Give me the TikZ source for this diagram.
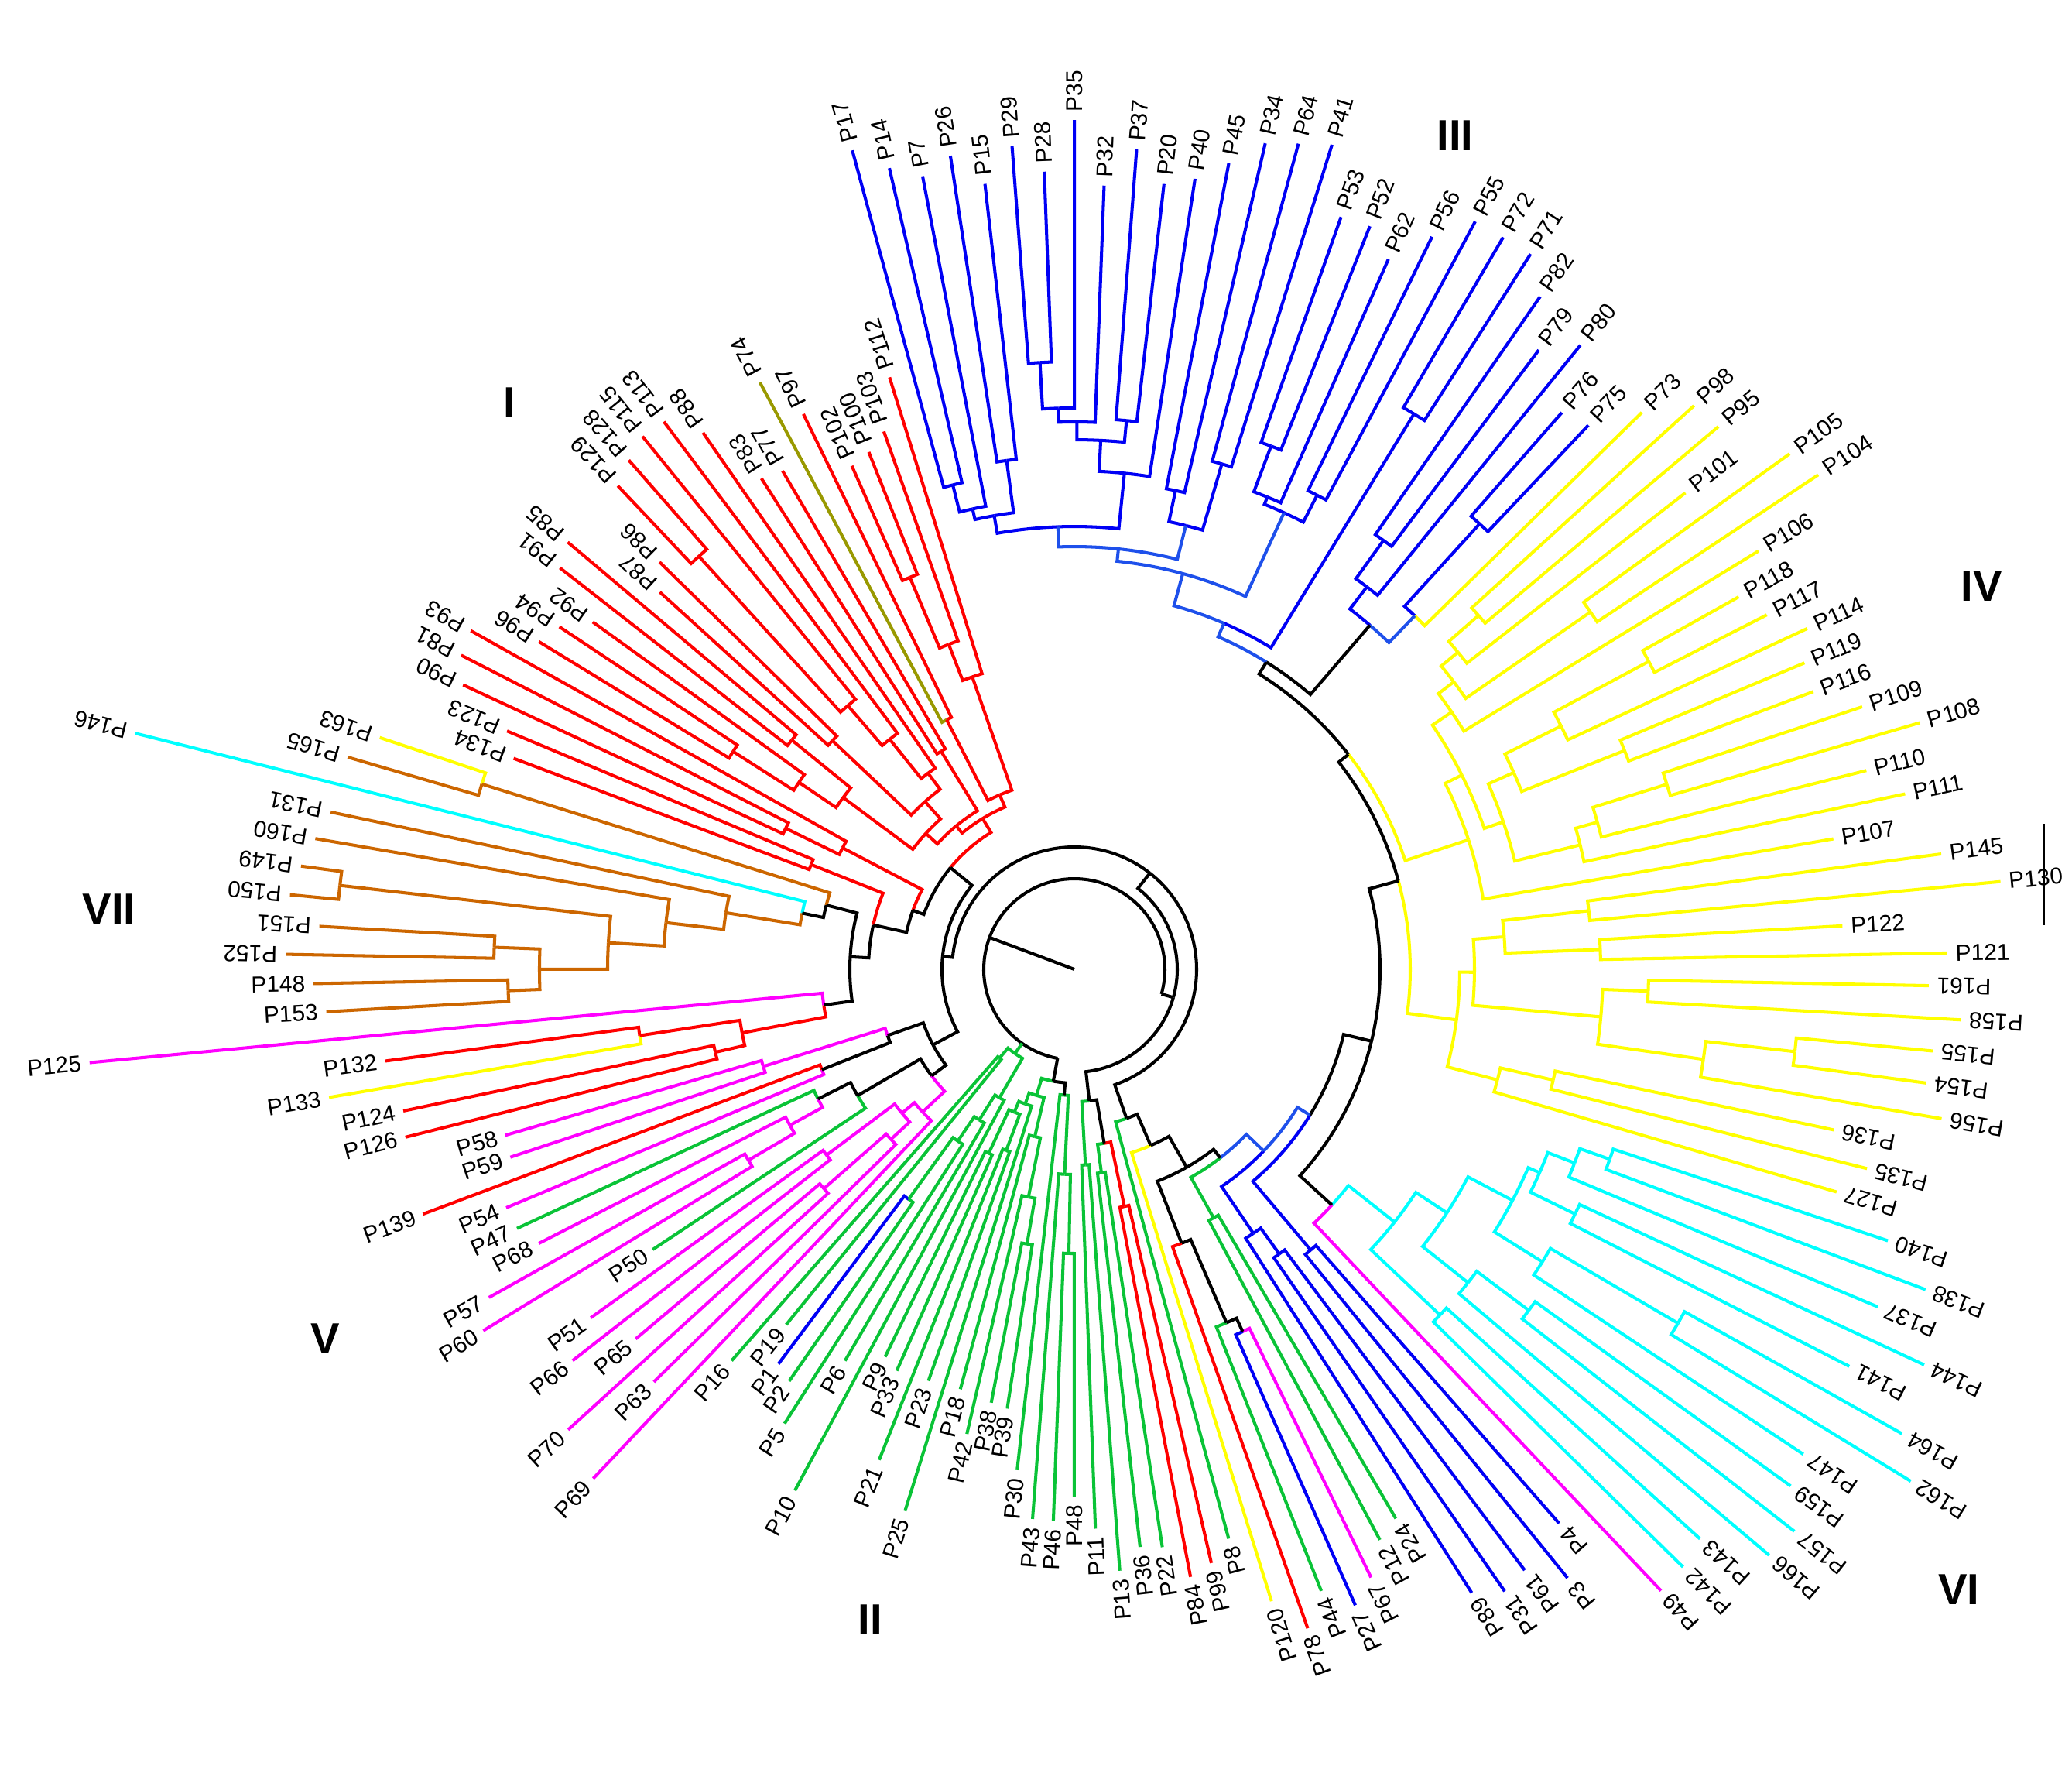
\documentclass[tikz,border=0pt]{standalone}
\usepackage{fontspec}
\setmainfont{Liberation Sans}
\usepackage{tikz}
\definecolor{cladeblue}{HTML}{0000F5}
\definecolor{stemblue}{HTML}{1E50EB}
\definecolor{cladered}{HTML}{FF0000}
\definecolor{cladeyellow}{HTML}{FFFF00}
\definecolor{cladecyan}{HTML}{00FFFF}
\definecolor{clademagenta}{HTML}{FF00FF}
\definecolor{cladegreen}{HTML}{0AC337}
\definecolor{cladebrown}{HTML}{CC6600}
\definecolor{cladeolive}{HTML}{999900}
\tikzset{
  br/.style={line width=1.15pt},
  lab/.style={font=\fontsize{8.5}{10}\selectfont, inner sep=1.5pt},
  grp/.style={font=\fontsize{16}{18}\selectfont\bfseries}
}
% leaf: index, tip radius (px), colour, name
\newcommand\leafP[4]{%
  \pgfmathsetmacro\myp{#1<90 ? #1+166 : #1}%
  \pgfmathsetmacro\mya{105.17-\myp*2.168675}%
  \expandafter\xdef\csname ka@#4\endcsname{\mya}%
  \expandafter\xdef\csname kr@#4\endcsname{#2}%
  \expandafter\xdef\csname kc@#4\endcsname{#3}%
  \pgfmathsetmacro\myn{mod(\mya+720,360)}%
  \pgfmathsetmacro\myr{#2/100+0.05}%
  \ifdim\myn pt<180pt
    \node[lab, anchor=west, rotate=\mya] (#4) at (\mya:\myr) {#4};
  \else
    \node[lab, anchor=east, rotate=\mya+180] (#4) at (\mya:\myr) {#4};
  \fi
}
% clade: id, radius (px), colour, children
\newcommand\cladeN[4]{%
  \foreach \kch [count=\kn] in {#4}{%
    \ifnum\kn=1 \xdef\kfirst{\csname ka@\kch\endcsname}\fi
    \xdef\klast{\csname ka@\kch\endcsname}%
  }%
  \pgfmathsetmacro\kmid{(\kfirst+\klast)/2}%
  \pgfmathsetmacro\krr{#2/100}%
  \foreach \kch in {#4}{%
    \edef\kang{\csname ka@\kch\endcsname}%
    \edef\kval{\csname kr@\kch\endcsname}%
    \edef\kcol{\csname kc@\kch\endcsname}%
    \pgfmathsetmacro\krad{\kval/100}%
    \draw[br, draw=\kcol] (\kmid:\krr) arc[start angle=\kmid, end angle=\kang, radius=\krr] -- (\kang:\krad);
  }%
  \expandafter\xdef\csname ka@#1\endcsname{\kmid}%
  \expandafter\xdef\csname kr@#1\endcsname{#2}%
  \expandafter\xdef\csname kc@#1\endcsname{#3}%
}
\begin{document}
\begin{tikzpicture}
  \useasboundingbox (-13.88,-10.50) rectangle (12.89,12.52);
  \fill[white] (-13.88,-10.50) rectangle (12.89,12.52);

  % leaves
  \foreach \i/\r/\col/\nm in {
    0/1096/cladeblue/P17, 1/1062/cladeblue/P14, 2/1043/cladeblue/P7, 3/1063/cladeblue/P26,
    4/1021/cladeblue/P15, 5/1066/cladeblue/P29, 6/1031/cladeblue/P28, 7/1097/cladeblue/P35,
    8/1013/cladeblue/P32, 9/1062/cladeblue/P37, 10/1021/cladeblue/P20, 11/1033/cladeblue/P40,
    12/1060/cladeblue/P45, 13/1095/cladeblue/P34, 14/1105/cladeblue/P64, 15/1116/cladeblue/P41,
    16/1031/cladeblue/P53, 17/1033/cladeblue/P52, 18/1003/cladeblue/P62, 19/1053/cladeblue/P56,
    20/1096/cladeblue/P55, 21/1096/cladeblue/P72, 22/1096/cladeblue/P71, 23/1057/cladeblue/P82,
    24/1000/cladeblue/P79, 25/1038/cladeblue/P80, 26/956/cladeblue/P76, 27/967/cladeblue/P75,
    28/1027/cladeyellow/P73, 29/1082/cladeyellow/P98, 30/1088/cladeyellow/P95, 31/1001/cladeyellow/P101,
    32/1139/cladeyellow/P105, 33/1154/cladeyellow/P104, 34/1036/cladeyellow/P106, 35/984/cladeyellow/P118,
    36/1005/cladeyellow/P117, 37/1044/cladeyellow/P114, 38/1023/cladeyellow/P119, 39/1020/cladeyellow/P116,
    40/1073/cladeyellow/P109, 41/1138/cladeyellow/P108, 42/1055/cladeyellow/P110, 43/1097/cladeyellow/P111,
    44/995/cladeyellow/P107, 45/1130/cladeyellow/P145, 46/1202/cladeyellow/P130, 47/994/cladeyellow/P122,
    48/1128/cladeyellow/P121, 49/1104/cladeyellow/P161, 50/1147/cladeyellow/P158, 51/1114/cladeyellow/P155,
    52/1110/cladeyellow/P154, 53/1137/cladeyellow/P156, 54/1003/cladeyellow/P136, 55/1056/cladeyellow/P135,
    56/1026/cladeyellow/P127, 57/1108/cladecyan/P140, 58/1175/cladecyan/P138, 59/1126/cladecyan/P137,
    60/1211/cladecyan/P144, 61/1125/cladecyan/P141, 62/1226/cladecyan/P164, 63/1267/cladecyan/P162,
    64/1131/cladecyan/P147, 65/1141/cladecyan/P159, 66/1180/cladecyan/P157, 67/1174/cladecyan/P166,
    68/1093/cladecyan/P143, 69/1102/cladecyan/P142, 70/1104/clademagenta/P49, 71/951/cladeblue/P4,
    72/1012/cladeblue/P3, 73/970/cladeblue/P61, 74/977/cladeblue/P31, 75/955/cladeblue/P89,
    76/822/cladegreen/P24, 77/836/cladegreen/P12, 78/874/clademagenta/P67, 79/898/cladeblue/P27,
    80/864/cladegreen/P44, 81/903/cladered/P78, 82/855/cladeyellow/P120, 83/762/cladegreen/P8,
    84/787/cladered/P99, 85/799/cladered/P84, 86/755/cladegreen/P22, 87/751/cladegreen/P36,
    88/779/cladegreen/P13, 89/723/cladegreen/P11, 90/681/cladegreen/P48, 91/713/cladegreen/P46,
    92/712/cladegreen/P43, 93/651/cladegreen/P30, 94/574/cladegreen/P39, 95/570/cladegreen/P38,
    96/616/cladegreen/P42, 97/562/cladegreen/P18, 98/733/cladegreen/P25, 99/564/cladegreen/P23,
    100/682/cladegreen/P21, 101/567/cladegreen/P33, 102/557/cladegreen/P9, 103/764/cladegreen/P10,
    104/586/cladegreen/P6, 105/696/cladegreen/P5, 106/647/cladegreen/P2, 107/637/cladeblue/P1,
    108/591/cladegreen/P19, 109/672/cladegreen/P16, 110/905/clademagenta/P69, 111/761/clademagenta/P63,
    112/884/clademagenta/P70, 113/741/clademagenta/P65, 114/822/clademagenta/P66, 115/770/clademagenta/P51,
    116/654/cladegreen/P50, 117/895/clademagenta/P60, 118/867/clademagenta/P57, 119/777/clademagenta/P68,
    120/794/cladegreen/P47, 121/796/clademagenta/P54, 122/899/cladered/P139, 123/768/clademagenta/P59,
    124/766/clademagenta/P58, 125/891/cladered/P126, 126/886/cladered/P124, 127/977/cladeyellow/P133,
    128/898/cladered/P132, 129/1278/clademagenta/P125, 130/968/cladebrown/P153, 131/983/cladebrown/P148,
    132/1019/cladebrown/P152, 133/977/cladebrown/P151, 134/1018/cladebrown/P150, 135/1008/cladebrown/P149,
    136/995/cladebrown/P160, 137/982/cladebrown/P131, 138/1251/cladecyan/P146, 139/978/cladebrown/P165,
    140/946/cladeyellow/P163, 141/774/cladered/P134, 142/795/cladered/P123, 143/871/cladered/P90,
    144/890/cladered/P81, 145/894/cladered/P93, 146/811/cladered/P96, 147/799/cladered/P94,
    148/767/cladered/P92, 149/843/cladered/P91, 150/856/cladered/P85, 151/724/cladered/P87,
    152/751/cladered/P86, 153/859/cladered/P129, 154/874/cladered/P128, 155/886/cladered/P115,
    156/884/cladered/P113, 157/843/cladered/P88, 158/752/cladered/P83, 159/746/cladered/P77,
    160/860/cladeolive/P74, 161/798/cladered/P97, 162/711/cladered/P102, 163/719/cladered/P100,
    164/737/cladered/P103, 165/801/cladered/P112} {\leafP{\i}{\r}{\col}{\nm}}

  % group III
  \cladeN{t1}{645}{cladeblue}{P17,P14}
  \cladeN{t2}{609}{cladeblue}{t1,P7}
  \cladeN{t3}{663}{cladeblue}{P26,P15}
  \cladeN{t4}{595}{cladeblue}{t2,t3}
  \cladeN{t5}{785}{cladeblue}{P29,P28}
  \cladeN{t6}{725}{cladeblue}{t5,P35}
  \cladeN{t7}{707}{cladeblue}{t6,P32}
  \cladeN{t8}{712}{cladeblue}{P37,P20}
  \cladeN{t9}{684}{cladeblue}{t7,t8}
  \cladeN{t10}{644}{cladeblue}{t9,P40}
  \cladeN{t11}{572}{stemblue}{t4,t10}
  \cladeN{t12}{632}{cladeblue}{P45,P34}
  \cladeN{t13}{680}{cladeblue}{P64,P41}
  \cladeN{t14}{591}{stemblue}{t12,t13}
  \cladeN{t15}{546}{stemblue}{t11,t14}
  \cladeN{t16}{722}{cladeblue}{P53,P52}
  \cladeN{t17}{659}{cladeblue}{t16,P62}
  \cladeN{t18}{688}{cladeblue}{P56,P55}
  \cladeN{t19}{649}{stemblue}{t17,t18}
  \cladeN{t20}{530}{stemblue}{t15,t19}
  \cladeN{t21}{841}{cladeblue}{P72,P71}
  \cladeN{t22}{487}{stemblue}{t20,t21}
  \cladeN{t23}{683}{cladeblue}{P82,P79}
  \cladeN{t24}{622}{cladeblue}{t23,P80}
  \cladeN{u0}{778}{cladeblue}{P76,P75}
  \cladeN{uE}{634}{stemblue}{u0,P73}
  \cladeN{u1}{586}{black}{t24,uE}
  \cladeN{u2}{468}{black}{t22,u1}

  % group IV
  \cladeN{y1}{694}{cladeyellow}{P98,P95}
  \cladeN{y2}{643}{cladeyellow}{y1,P101}
  \cladeN{y3}{811}{cladeyellow}{P105,P104}
  \cladeN{y4}{615}{cladeyellow}{y2,y3}
  \cladeN{y5}{590}{cladeyellow}{y4,P106}
  \cladeN{y6}{842}{cladeyellow}{P118,P117}
  \cladeN{y7}{703}{cladeyellow}{y6,P114}
  \cladeN{y8}{765}{cladeyellow}{P119,P116}
  \cladeN{y9}{622}{cladeyellow}{y7,y8}
  \cladeN{y10}{802}{cladeyellow}{P109,P108}
  \cladeN{y11}{702}{cladeyellow}{y10,P110}
  \cladeN{y12}{673}{cladeyellow}{y11,P111}
  \cladeN{y13}{586}{cladeyellow}{y9,y12}
  \cladeN{y14}{560}{cladeyellow}{y5,y13}
  \cladeN{y15}{536}{cladeyellow}{y14,P107}
  \cladeN{z1}{669}{cladeyellow}{P145,P130}
  \cladeN{z2}{680}{cladeyellow}{P122,P121}
  \cladeN{z3}{557}{cladeyellow}{z1,z2}
  \cladeN{z4}{742}{cladeyellow}{P161,P158}
  \cladeN{z5}{937}{cladeyellow}{P155,P154}
  \cladeN{z6}{821}{cladeyellow}{z5,P156}
  \cladeN{z7}{683}{cladeyellow}{z4,z6}
  \cladeN{z8}{517}{cladeyellow}{z3,z7}
  \cladeN{z9}{635}{cladeyellow}{P136,P135}
  \cladeN{z10}{565}{cladeyellow}{z9,P127}
  \cladeN{z11}{498}{cladeyellow}{z8,z10}
  \cladeN{Y449}{450}{black}{u2,y15}
  \cladeN{Y434}{434}{black}{Y449,z11}

  % group VI
  \cladeN{c1}{734}{cladecyan}{P140,P138}
  \cladeN{c2}{693}{cladecyan}{c1,P137}
  \cladeN{c3}{720}{cladecyan}{P144,P141}
  \cladeN{c4}{656}{cladecyan}{c2,c3}
  \cladeN{c5}{904}{cladecyan}{P164,P162}
  \cladeN{c6}{713}{cladecyan}{c5,P147}
  \cladeN{c8}{640}{cladecyan}{c4,c6}
  \cladeN{c7}{734}{cladecyan}{P159,P157}
  \cladeN{c11}{650}{cladecyan}{c7,P166}
  \cladeN{cB}{575}{cladecyan}{c8,c11}
  \cladeN{c10}{650}{cladecyan}{P143,P142}
  \cladeN{cR}{527}{cladecyan}{cB,c10}
  \cladeN{VIa}{451}{black}{cR,P49}
  \cladeN{X395}{395}{black}{Y434,VIa}

  % lower right ladder
  \cladeN{b1}{474}{cladeblue}{P4,P3}
  \cladeN{b2}{453}{cladeblue}{P61,P31}
  \cladeN{b3}{412}{cladeblue}{b2,P89}
  \cladeN{X358}{358}{stemblue}{X395,b1}
  \cladeN{N339}{339}{stemblue}{X358,b3}
  \cladeN{n0}{368}{cladegreen}{P24,P12}
  \cladeN{N308}{308}{black}{N339,n0}
  \cladeN{m1}{516}{black}{P67,P27}
  \cladeN{n1}{497}{black}{m1,P44}
  \cladeN{n2}{380}{black}{n1,P78}
  \cladeN{N294}{294}{black}{N308,n2}
  \cladeN{N248}{248}{black}{N294,P120}
  \cladeN{N204}{204}{black}{N248,P8}

  % group II
  \cladeN{q1r}{313}{cladered}{P99,P84}
  \cladeN{qg}{265}{cladegreen}{P22,P36}
  \cladeN{Lb}{228}{black}{q1r,qg}
  \cladeN{q2}{253}{cladegreen}{P13,P11}
  \cladeN{q3}{171}{black}{Lb,q2}
  \cladeN{q4}{367}{cladegreen}{P48,P46}
  \cladeN{q5}{265}{cladegreen}{q4,P43}
  \cladeN{q6}{163}{black}{q5,P30}
  \cladeN{q7}{360}{cladegreen}{P39,P38}
  \cladeN{q8}{300}{cladegreen}{q7,P42}
  \cladeN{q9}{222}{cladegreen}{q8,P18}
  \cladeN{q10}{250}{cladegreen}{P23,P21}
  \cladeN{q11}{262}{cladegreen}{P33,P9}
  \cladeN{q12}{200}{cladegreen}{q10,q11}
  \cladeN{q13}{185}{cladegreen}{P25,q12}
  \cladeN{q14}{170}{cladegreen}{q9,q13}
  \cladeN{q15}{147}{black}{q6,q14}
  \cladeN{w1}{366}{cladegreen}{P2,P1}
  \cladeN{w2}{268}{cladegreen}{P5,w1}
  \cladeN{w3}{230}{cladegreen}{P6,w2}
  \cladeN{w4}{192}{cladegreen}{P10,w3}
  \cladeN{w5}{150}{cladegreen}{P19,P16}
  \cladeN{Gl}{133}{cladegreen}{w4,w5}

  % group V
  \cladeN{p1}{430}{clademagenta}{P70,P65}
  \cladeN{p2}{323}{clademagenta}{P63,p1}
  \cladeN{p3}{400}{clademagenta}{P66,P51}
  \cladeN{p4}{290}{clademagenta}{p2,p3}
  \cladeN{p5}{269}{clademagenta}{P69,p4}
  \cladeN{p6}{488}{clademagenta}{P60,P57}
  \cladeN{p7}{419}{clademagenta}{p6,P68}
  \cladeN{p8}{371}{black}{p7,P47}
  \cladeN{p9}{324}{black}{P50,p8}
  \cladeN{VVb}{230}{black}{p5,p9}
  \cladeN{p10}{351}{black}{P54,P139}
  \cladeN{p11}{421}{clademagenta}{P59,P58}
  \cladeN{p12}{256}{black}{p10,p11}
  \cladeN{VV}{207}{black}{VVb,p12}
  \cladeN{R1}{476}{cladered}{P126,P124}
  \cladeN{R2}{568}{cladered}{P133,P132}
  \cladeN{R3}{437}{cladered}{R1,R2}
  \cladeN{R4}{327}{black}{R3,P125}

  % group VII
  \cladeN{v1}{732}{cladebrown}{P153,P148}
  \cladeN{v2}{750}{cladebrown}{P152,P151}
  \cladeN{v3}{691}{cladebrown}{v1,v2}
  \cladeN{v4}{955}{cladebrown}{P150,P149}
  \cladeN{v5}{603}{cladebrown}{v3,v4}
  \cladeN{v6}{531}{cladebrown}{v5,P160}
  \cladeN{v7}{456}{cladebrown}{v6,P131}
  \cladeN{v8}{359}{black}{v7,P146}
  \cladeN{VIIb}{802}{cladebrown}{P165,P163}
  \cladeN{v9}{331}{black}{v8,VIIb}
  \cladeN{N290}{290}{black}{R4,v9}

  % group I
  \cladeN{i1}{366}{cladered}{P134,P123}
  \cladeN{N266}{266}{black}{N290,i1}
  \cladeN{i2}{415}{cladered}{P90,P81}
  \cladeN{i3}{338}{cladered}{i2,P93}
  \cladeN{X}{222}{black}{N266,i3}
  \cladeN{i4}{523}{cladered}{P96,P94}
  \cladeN{i5}{430}{cladered}{i4,P92}
  \cladeN{i6}{470}{cladered}{P91,P85}
  \cladeN{i7}{372}{cladered}{i5,i6}
  \cladeN{i8}{430}{cladered}{P87,P86}
  \cladeN{i9}{721}{cladered}{P129,P128}
  \cladeN{i10}{449}{cladered}{i9,P115}
  \cladeN{i11}{381}{cladered}{i10,P113}
  \cladeN{i12}{316}{cladered}{i11,P88}
  \cladeN{i13}{290}{cladered}{i8,i12}
  \cladeN{iF}{260}{cladered}{i7,i13}
  \cladeN{iL}{330}{cladered}{P83,P77}
  \cladeN{iA}{240}{cladered}{iF,iL}
  \cladeN{iO}{362}{cladered}{P74,P97}
  \cladeN{i16}{549}{cladered}{P102,P100}
  \cladeN{i17}{450}{cladered}{i16,P103}
  \cladeN{i18}{400}{cladered}{i17,P112}
  \cladeN{iQ}{245}{cladered}{iO,i18}
  \cladeN{rI}{228}{cladered}{iA,iQ}
  \cladeN{N207}{207}{black}{X,rI}

  % backbone
  \cladeN{L171}{171}{black}{VV,N207}
  \cladeN{C3}{158}{black}{L171,N204}
  \cladeN{C2}{133}{black}{C3,q3}
  \edef\rootq{\csname ka@q15\endcsname}
  \edef\rootg{\csname ka@Gl\endcsname}
  \edef\rootc{\csname ka@C2\endcsname}
  \draw[br] (0,0) -- (159.4:1.17);
  \draw[br] (\rootq:1.17) arc[start angle=\rootq, end angle=\rootc, radius=1.17];
  \draw[br] (\rootq:1.17) -- (\rootq:1.47);
  \draw[br, draw=cladegreen] (\rootg:1.17) -- (\rootg:1.33);
  \draw[br] (\rootc:1.17) -- (\rootc:1.33);

  % group labels
  \node[grp] (gI) at (-7.30,7.32) {I};
  \node[grp] (gII) at (-2.64,-8.40) {II};
  \node[grp] (gIII) at (4.92,10.77) {III};
  \node[grp] (gIV) at (11.72,4.95) {IV};
  \node[grp] (gV) at (-9.68,-4.77) {V};
  \node[grp] (gVI) at (11.43,-8.01) {VI};
  \node[grp] (gVII) at (-12.47,0.78) {VII};

  \coordinate (barT) at (12.53,1.88);
  \coordinate (barB) at (12.53,0.57);
  \draw[line width=0.5pt] (barT) -- (barB);
\end{tikzpicture}
\end{document}
